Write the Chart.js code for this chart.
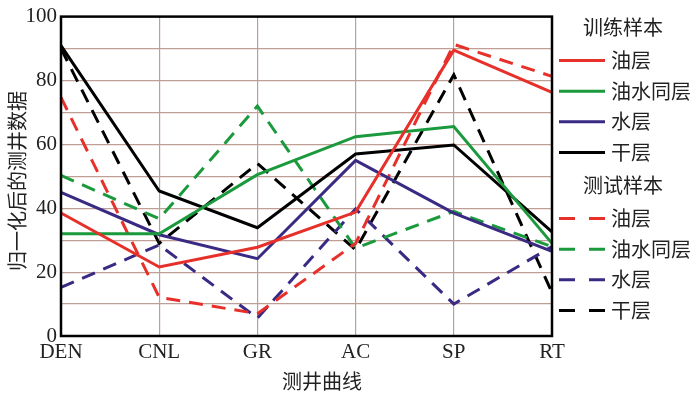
<!DOCTYPE html>
<html>
<head>
<meta charset="utf-8">
<script src="https://cdn.jsdelivr.net/npm/chart.js@4/dist/chart.umd.min.js"></script>
<style>
html,body{margin:0;padding:0;background:#fff;}
#wrap{width:700px;height:397px;position:relative;}
</style>
</head>
<body>
<div id="wrap"><canvas id="c" width="700" height="397"></canvas></div>
<script>
const categories = ['DEN', 'CNL', 'GR', 'AC', 'SP', 'RT'];
const yTicks = [0, 20, 40, 60, 80, 100];

// 训练样本 (training samples, solid)
const trainOil      = [38.5, 21.6, 27.8, 38.8, 89.5, 76.3];
const trainOilWater = [32.0, 32.0, 50.5, 62.4, 65.6, 29.0];
const trainWater    = [45.0, 31.7, 24.2, 55.0, 38.5, 26.5];
const trainDry      = [90.9, 45.4, 33.9, 57.0, 59.8, 32.6];

// 测试样本 (test samples, dashed)
const testOil      = [74.7, 12.1, 7.0, 29.0, 91.3, 81.3];
const testOilWater = [50.3, 36.7, 72.0, 27.5, 39.0, 28.0];
const testWater    = [15.2, 28.5, 5.6, 39.8, 10.0, 28.0];
const testDry      = [90.0, 29.0, 54.0, 27.0, 81.8, 13.6];

const seriesNames = ['油层', '油水同层', '水层', '干层'];
const groupNames = ['训练样本', '测试样本'];
const colors = ['#e8302a', '#1a9a3c', '#3a2a84', '#000000'];

const trainData = [trainOil, trainOilWater, trainWater, trainDry];
const testData = [testOil, testOilWater, testWater, testDry];

const DASH = [14, 9];
const datasets = [];
trainData.forEach((d, i) => datasets.push({
  label: groupNames[0] + ' ' + seriesNames[i], data: d, borderColor: colors[i],
  borderWidth: 3, pointRadius: 0, tension: 0, fill: false
}));
testData.forEach((d, i) => datasets.push({
  label: groupNames[1] + ' ' + seriesNames[i], data: d, borderColor: colors[i],
  borderWidth: 3, borderDash: DASH, pointRadius: 0, tension: 0, fill: false
}));

const SERIF = '"Liberation Serif", "DejaVu Serif", serif';
const CJK = '"Noto Sans CJK SC", sans-serif';
const GRID = '#bf9f95';

const extras = {
  id: 'extras',
  afterDraw(chart) {
    const ctx = chart.ctx;
    const a = chart.chartArea;
    ctx.save();
    // frame
    ctx.strokeStyle = '#000';
    ctx.lineWidth = 2.5;
    ctx.strokeRect(a.left, a.top, a.right - a.left, a.bottom - a.top);
    // axis titles
    ctx.fillStyle = '#222';
    ctx.font = '20px ' + CJK;
    ctx.textAlign = 'center';
    ctx.textBaseline = 'middle';
    ctx.fillText('测井曲线', 322, 381);
    ctx.save();
    ctx.translate(17, 181);
    ctx.rotate(-Math.PI / 2);
    ctx.fillText('归一化后的测井数据', 0, 0);
    ctx.restore();
    // legend
    const lx0 = 559, lx1 = 605, tx = 611;
    const rowH = 30.6;
    let y = 27;
    ctx.textAlign = 'left';
    for (let g = 0; g < 2; g++) {
      ctx.fillStyle = '#222';
      ctx.fillText(groupNames[g], 583, y);
      y += rowH + 3;
      for (let i = 0; i < 4; i++) {
        const ds = chart.data.datasets[g * 4 + i];
        ctx.strokeStyle = ds.borderColor;
        ctx.lineWidth = 3;
        ctx.setLineDash(g === 1 ? [16, 14] : []);
        ctx.beginPath();
        ctx.moveTo(lx0, y);
        ctx.lineTo(lx1, y);
        ctx.stroke();
        ctx.setLineDash([]);
        ctx.fillStyle = '#222';
        ctx.fillText(seriesNames[i], tx, y);
        y += rowH;
      }
      y += 2;
    }
    ctx.restore();
  }
};

new Chart(document.getElementById('c'), {
  type: 'line',
  data: { labels: categories, datasets },
  options: {
    responsive: false,
    animation: false,
    layout: { padding: { left: 0, right: 148, top: 11, bottom: 0 } },
    plugins: { legend: { display: false }, tooltip: { enabled: false } },
    scales: {
      x: {
        offset: false,
        grid: { color: GRID, lineWidth: 1.2, drawTicks: false },
        border: { display: false },
        ticks: { color: '#222', font: { family: SERIF, size: 21 }, padding: 4, maxRotation: 0, autoSkip: false },
        afterFit(s) { s.height = 61; }
      },
      y: {
        min: 0, max: 100,
        grid: { color: GRID, lineWidth: 1.2, drawTicks: false },
        border: { display: false },
        ticks: {
          stepSize: 10, color: '#222', font: { family: SERIF, size: 21 }, padding: 4,
          callback: (v) => yTicks.includes(v) ? String(v) : ''
        },
        afterFit(s) { s.width = 61; }
      }
    }
  },
  plugins: [extras]
});
</script>
</body>
</html>
